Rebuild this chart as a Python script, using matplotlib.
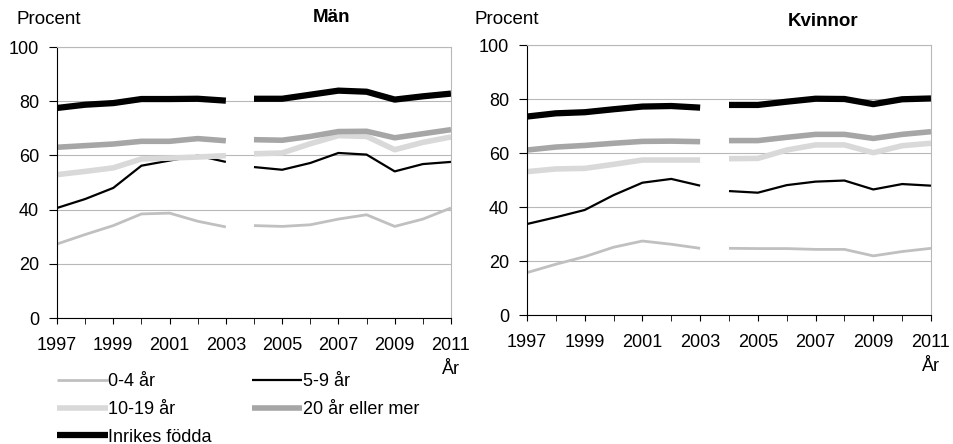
import matplotlib.pyplot as plt
import numpy as np

plt.rcParams['font.family'] = ['Liberation Sans', 'DejaVu Sans']

år_1 = [1997, 1998, 1999, 2000, 2001, 2002, 2003]
år_2 = [2004, 2005, 2006, 2007, 2008, 2009, 2010, 2011]

# Män
man_0_4 = [27.3, 30.8, 34.1, 38.4, 38.7, 35.7, 33.6, 34.1, 33.8, 34.4, 36.5, 38.1, 33.8, 36.5, 40.6]
man_5_9 = [40.6, 43.9, 48.0, 56.2, 58.1, 59.9, 57.6, 55.7, 54.7, 57.2, 60.9, 60.3, 54.1, 56.8, 57.6]
man_10_19 = [52.9, 54.1, 55.4, 58.7, 59.0, 59.4, 59.9, 60.6, 60.9, 64.3, 67.3, 67.0, 62.1, 64.8, 66.8]
man_20 = [63.0, 63.6, 64.2, 65.2, 65.2, 66.2, 65.4, 65.8, 65.6, 67.0, 68.8, 68.9, 66.5, 68.0, 69.5]
man_inrikes = [77.5, 78.7, 79.3, 80.8, 80.8, 80.9, 80.2, 80.9, 80.9, 82.4, 83.9, 83.5, 80.6, 81.8, 82.8]

# Kvinnor
kv_0_4 = [15.7, 18.8, 21.6, 25.1, 27.4, 26.2, 24.7, 24.7, 24.6, 24.6, 24.3, 24.3, 21.9, 23.5, 24.7]
kv_5_9 = [33.7, 36.2, 38.9, 44.4, 49.0, 50.4, 47.9, 45.9, 45.3, 48.1, 49.4, 49.8, 46.5, 48.5, 47.9]
kv_10_19 = [53.1, 54.1, 54.3, 55.8, 57.4, 57.4, 57.4, 57.9, 58.0, 61.1, 63.0, 63.0, 60.1, 62.7, 63.6]
kv_20 = [61.1, 62.2, 62.8, 63.6, 64.3, 64.4, 64.2, 64.6, 64.6, 65.8, 66.9, 66.9, 65.4, 66.9, 67.9]
kv_inrikes = [73.5, 74.7, 75.1, 76.2, 77.2, 77.4, 76.8, 77.8, 77.8, 79.0, 80.1, 80.0, 78.1, 79.9, 80.2]

etiketter = ['0-4 år', '5-9 år', '10-19 år', '20 år eller mer', 'Inrikes födda']
stilar = [('#c0c0c0', 2.0), ('#000000', 1.6), ('#d9d9d9', 4.0), ('#a6a6a6', 4.0), ('#000000', 4.5)]

fig = plt.figure(figsize=(9.54, 4.44), dpi=100)
ax1 = fig.add_axes([57 / 954, 1 - 318 / 444, 394 / 954, 271 / 444])
ax2 = fig.add_axes([527 / 954, 1 - 315 / 444, 404 / 954, 270 / 444])

n1 = len(år_1)
for ax, serier in [(ax1, [man_0_4, man_5_9, man_10_19, man_20, man_inrikes]),
                   (ax2, [kv_0_4, kv_5_9, kv_10_19, kv_20, kv_inrikes])]:
    for serie, etikett, (färg, lw) in zip(serier, etiketter, stilar):
        ax.plot(år_1, serie[:n1], color=färg, lw=lw, label=etikett, solid_capstyle='butt')
        ax.plot(år_2, serie[n1:], color=färg, lw=lw, solid_capstyle='butt')
    ax.set_xlim(1997, 2011)
    ax.set_ylim(0, 100)
    ax.set_yticks([0, 20, 40, 60, 80, 100])
    ax.set_xticks(range(1997, 2012, 2))
    ax.set_xticks(range(1997, 2012), minor=True)
    ax.grid(axis='y', color='#b8b8b8', lw=0.8)
    ax.set_axisbelow(True)
    ax.spines['top'].set_color('#b8b8b8')
    ax.spines['right'].set_color('#b8b8b8')
    ax.tick_params(axis='both', labelsize=13, width=0.8, direction='out')
    ax.tick_params(axis='x', which='both', length=4, top=False)
    ax.tick_params(axis='x', pad=10)
    ax.tick_params(axis='y', length=6, pad=7, right=False)
    ax.text(2011, -19, 'År', fontsize=13, ha='center', va='center')

fig.text(16 / 954, 1 - 20 / 444, 'Procent', fontsize=13.5, ha='left', va='center')
fig.text(332 / 954, 1 - 17 / 444, 'Män', fontsize=13.5, fontweight='bold', ha='center', va='center')
fig.text(475 / 954, 1 - 19 / 444, 'Procent', fontsize=13.5, ha='left', va='center')
fig.text(823 / 954, 1 - 22 / 444, 'Kvinnor', fontsize=13.5, fontweight='bold', ha='center', va='center')

# radvis ordning i förklaringen
handtag, namn = ax1.get_legend_handles_labels()
ordning = [0, 2, 4, 1, 3]
fig.legend([handtag[i] for i in ordning], [namn[i] for i in ordning],
           loc='upper left', bbox_to_anchor=(57 / 954, 1 - 373 / 444), ncol=2,
           frameon=False, fontsize=13, handlelength=2.8, handletextpad=0.05,
           columnspacing=2.2, labelspacing=0.6, borderpad=0, borderaxespad=0)

plt.savefig('out.png', dpi=100)
